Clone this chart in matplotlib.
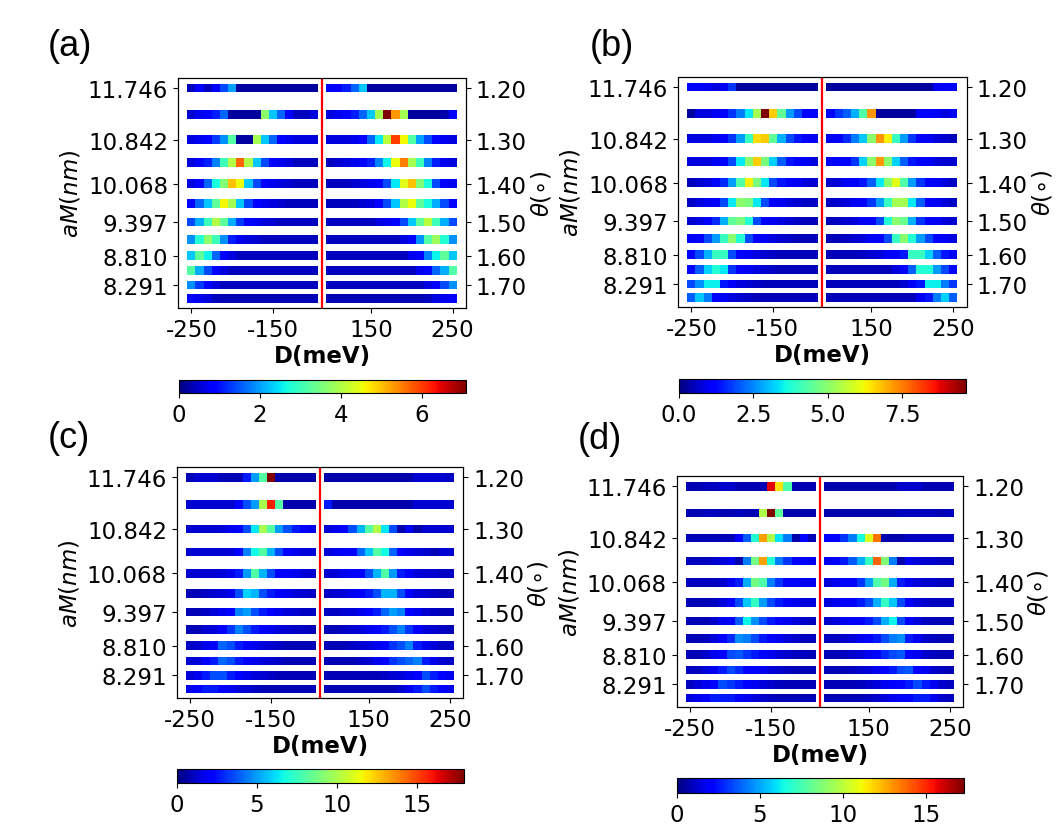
import matplotlib
matplotlib.use('Agg')
import matplotlib.pyplot as plt
import numpy as np
from matplotlib.colors import Normalize

# twist angles (rows) and the matching moire length aM in nm
theta = [1.20, 1.25, 1.30, 1.35, 1.40, 1.45, 1.50, 1.55, 1.60, 1.65, 1.70, 1.75]
aM = [11.746, 11.276, 10.842, 10.441, 10.068, 9.721, 9.397, 9.094, 8.810, 8.543, 8.291, 8.055]

# displacement field columns (meV), two blocks with a gap around zero
D_left = [-250, -240, -230, -220, -210, -200, -190, -180, -170, -160, -150, -140, -130, -120, -110, -100]
D_right = [100, 110, 120, 130, 140, 150, 160, 170, 180, 190, 200, 210, 220, 230, 240, 250]

ytick_aM = [11.746, 10.842, 10.068, 9.397, 8.810, 8.291]
ytick_aM_labels = ['11.746', '10.842', '10.068', '9.397', '8.810', '8.291']
ytick_theta_labels = ['1.20', '1.30', '1.40', '1.50', '1.60', '1.70']
xtick_D = [-250, -150, 150, 250]

# ---- panel (a)
a_left = [
    [0.4, 0.9, 0.4, 0.9, 1.4, 2.0, 0.2, 0.2, 0.2, 0.2, 0.2, 0.2, 0.2, 0.2, 0.2, 0.2],
    [0.5, 0.7, 0.9, 1.1, 1.6, 0.2, 0.2, 0.2, 0.2, 3.7, 2.3, 1.6, 0.9, 0.4, 0.4, 0.6],
    [0.6, 0.7, 0.9, 1.3, 1.9, 3.2, 0.2, 0.2, 3.9, 2.3, 1.6, 0.9, 0.7, 0.6, 0.6, 0.6],
    [0.6, 0.9, 1.1, 1.8, 3.0, 4.0, 5.7, 4.0, 2.3, 1.4, 0.9, 0.7, 0.6, 0.4, 0.4, 0.4],
    [0.6, 0.9, 1.6, 2.7, 3.6, 5.0, 4.5, 2.3, 1.4, 0.9, 0.7, 0.6, 0.5, 0.4, 0.4, 0.4],
    [0.9, 1.6, 2.3, 3.3, 4.6, 3.9, 2.3, 1.4, 0.9, 0.7, 0.6, 0.5, 0.4, 0.4, 0.4, 0.4],
    [1.4, 2.1, 3.0, 4.0, 3.3, 2.1, 1.3, 0.9, 0.7, 0.6, 0.5, 0.4, 0.4, 0.4, 0.4, 0.4],
    [1.9, 2.8, 3.7, 3.0, 1.9, 1.1, 0.7, 0.6, 0.5, 0.4, 0.4, 0.4, 0.4, 0.4, 0.4, 0.4],
    [2.3, 3.3, 2.6, 1.6, 0.9, 0.6, 0.4, 0.4, 0.4, 0.4, 0.4, 0.4, 0.4, 0.4, 0.4, 0.4],
    [3.2, 2.1, 1.4, 0.9, 0.6, 0.4, 0.4, 0.4, 0.4, 0.4, 0.4, 0.4, 0.4, 0.4, 0.4, 0.4],
    [1.9, 1.3, 0.9, 0.6, 0.4, 0.4, 0.4, 0.4, 0.4, 0.4, 0.4, 0.4, 0.4, 0.4, 0.4, 0.4],
    [0.9, 0.7, 0.6, 0.4, 0.35, 0.35, 0.35, 0.35, 0.35, 0.35, 0.35, 0.35, 0.35, 0.35, 0.35, 0.35],
]
a_right = [
    [0.9, 0.9, 1.1, 1.6, 2.3, 0.2, 0.2, 0.2, 0.2, 0.2, 0.2, 0.2, 0.2, 0.2, 0.2, 0.2],
    [0.6, 0.7, 0.9, 1.1, 1.6, 2.3, 3.9, 7.1, 5.3, 3.9, 0.2, 0.2, 0.2, 0.2, 0.3, 0.9],
    [0.6, 0.6, 0.6, 0.7, 0.9, 1.6, 2.5, 4.1, 6.0, 4.6, 3.2, 2.0, 1.4, 0.9, 0.7, 0.6],
    [0.4, 0.5, 0.6, 0.7, 0.9, 1.1, 1.8, 2.6, 4.5, 5.5, 3.9, 3.0, 1.8, 1.1, 0.7, 0.6],
    [0.4, 0.4, 0.4, 0.5, 0.6, 0.7, 0.9, 1.4, 2.5, 4.4, 5.0, 3.6, 2.7, 1.4, 0.9, 0.7],
    [0.4, 0.4, 0.4, 0.4, 0.5, 0.6, 0.9, 1.4, 2.3, 4.0, 4.5, 3.3, 2.7, 2.1, 1.4, 0.9],
    [0.4, 0.4, 0.4, 0.4, 0.4, 0.4, 0.6, 0.7, 0.9, 1.4, 2.3, 3.3, 4.1, 3.0, 2.1, 1.4],
    [0.4, 0.4, 0.4, 0.4, 0.4, 0.4, 0.4, 0.4, 0.4, 0.6, 0.9, 1.9, 3.2, 3.8, 2.8, 1.9],
    [0.4, 0.4, 0.4, 0.4, 0.4, 0.4, 0.4, 0.4, 0.4, 0.4, 0.7, 0.9, 1.8, 2.6, 3.3, 2.3],
    [0.4, 0.4, 0.4, 0.4, 0.4, 0.4, 0.4, 0.4, 0.4, 0.4, 0.4, 0.7, 0.9, 1.6, 2.1, 3.2],
    [0.4, 0.4, 0.4, 0.4, 0.4, 0.4, 0.4, 0.4, 0.4, 0.4, 0.4, 0.4, 0.6, 0.9, 1.4, 1.9],
    [0.35, 0.35, 0.35, 0.35, 0.35, 0.35, 0.35, 0.35, 0.35, 0.35, 0.35, 0.35, 0.4, 0.6, 0.7, 0.9],
]

# ---- panel (b)
b_left = [
    [1.2, 1.2, 1.0, 0.8, 1.0, 1.7, 0.3, 0.3, 0.3, 0.3, 0.3, 0.3, 0.3, 0.3, 0.3, 0.3],
    [0.3, 0.8, 0.8, 1.0, 1.2, 1.7, 2.4, 3.4, 5.3, 9.65, 6.7, 4.5, 2.7, 1.9, 1.2, 1.2],
    [0.8, 0.8, 0.8, 1.0, 1.2, 1.7, 2.7, 4.0, 6.5, 6.7, 4.5, 2.9, 1.9, 1.4, 1.2, 1.0],
    [0.8, 0.8, 0.8, 1.0, 1.2, 1.9, 3.4, 5.0, 6.7, 4.8, 3.2, 2.1, 1.4, 1.2, 1.0, 0.8],
    [0.5, 0.7, 0.8, 1.2, 1.6, 2.7, 4.3, 6.3, 4.8, 3.4, 1.9, 1.4, 1.2, 1.0, 0.8, 0.7],
    [0.6, 0.8, 1.0, 1.2, 1.9, 3.4, 5.0, 4.8, 3.4, 1.9, 1.2, 1.0, 0.8, 0.7, 0.6, 0.6],
    [0.7, 0.8, 1.2, 1.6, 2.9, 4.5, 4.8, 3.8, 1.9, 1.2, 1.0, 0.8, 0.7, 0.6, 0.5, 0.5],
    [1.0, 1.2, 1.9, 2.7, 4.0, 5.0, 3.8, 1.9, 1.2, 1.0, 0.8, 0.7, 0.6, 0.5, 0.5, 0.5],
    [1.2, 1.9, 2.9, 4.0, 4.0, 1.9, 1.2, 1.0, 0.8, 0.7, 0.6, 0.5, 0.5, 0.5, 0.5, 0.5],
    [1.2, 2.1, 3.2, 3.8, 3.4, 1.7, 1.2, 1.0, 0.8, 0.7, 0.6, 0.5, 0.5, 0.5, 0.5, 0.5],
    [1.9, 2.6, 3.5, 3.5, 1.4, 1.0, 0.8, 0.7, 0.6, 0.5, 0.5, 0.5, 0.5, 0.5, 0.5, 0.5],
    [2.1, 3.1, 2.4, 1.2, 1.0, 0.8, 0.7, 0.6, 0.5, 0.5, 0.5, 0.5, 0.5, 0.5, 0.5, 0.5],
]
b_right = [
    [0.3, 0.3, 0.3, 0.3, 0.3, 0.3, 0.3, 0.3, 0.3, 0.3, 0.3, 0.3, 0.3, 1.0, 1.2, 1.2],
    [1.2, 1.7, 2.1, 2.9, 4.3, 7.2, 0.3, 0.3, 0.3, 0.3, 0.3, 1.2, 1.2, 1.0, 0.8, 1.0],
    [1.0, 1.2, 1.6, 2.4, 3.1, 5.0, 7.2, 6.3, 4.0, 2.7, 1.7, 1.2, 1.0, 0.8, 0.7, 0.5],
    [1.0, 1.2, 1.2, 1.7, 3.2, 5.0, 7.2, 5.0, 3.2, 2.1, 1.4, 1.2, 1.0, 0.8, 0.7, 0.7],
    [0.7, 0.8, 1.0, 1.2, 1.4, 2.1, 3.4, 5.0, 6.0, 4.3, 2.7, 1.7, 1.2, 1.0, 0.8, 0.6],
    [0.6, 0.7, 0.8, 1.0, 1.2, 1.7, 2.7, 4.0, 5.3, 5.3, 3.4, 2.1, 1.2, 1.0, 0.8, 0.6],
    [0.5, 0.6, 0.7, 0.8, 1.0, 1.2, 1.9, 3.8, 5.0, 4.6, 2.9, 1.7, 1.2, 1.0, 0.8, 0.7],
    [0.5, 0.5, 0.6, 0.7, 0.8, 1.0, 1.2, 1.9, 4.0, 5.0, 3.8, 2.7, 1.9, 1.2, 1.0, 0.8],
    [0.5, 0.5, 0.5, 0.5, 0.6, 0.7, 0.8, 1.0, 1.2, 1.4, 4.0, 4.0, 3.2, 2.1, 1.4, 1.2],
    [0.5, 0.5, 0.5, 0.5, 0.5, 0.5, 0.5, 0.5, 0.8, 1.2, 2.1, 3.8, 3.8, 2.7, 1.9, 1.2],
    [0.5, 0.5, 0.5, 0.5, 0.5, 0.5, 0.5, 0.5, 0.5, 0.7, 1.0, 1.4, 3.5, 3.5, 2.4, 1.7],
    [0.5, 0.5, 0.5, 0.5, 0.5, 0.5, 0.5, 0.5, 0.5, 0.5, 0.5, 1.0, 1.4, 2.4, 3.2, 2.1],
]

# ---- panel (c)
c_left = [
    [0.9, 1.3, 1.3, 1.3, 0.9, 0.9, 0.9, 2.7, 5.0, 8.1, 17.9, 0.7, 0.7, 0.7, 0.7, 0.7],
    [1.3, 1.3, 1.3, 1.3, 1.3, 1.3, 2.3, 3.6, 5.0, 9.9, 15.7, 8.1, 0.7, 0.7, 0.7, 0.7],
    [1.3, 1.3, 1.3, 1.3, 1.4, 1.8, 2.3, 3.6, 6.3, 9.9, 8.1, 5.0, 3.6, 2.7, 2.3, 1.8],
    [1.3, 1.3, 1.3, 1.3, 1.3, 1.4, 2.2, 4.5, 6.7, 8.1, 5.4, 3.6, 2.3, 1.8, 1.4, 1.4],
    [1.3, 1.3, 1.3, 1.3, 1.4, 1.8, 2.7, 4.9, 8.1, 5.4, 3.6, 2.3, 2.2, 1.8, 1.4, 1.3],
    [0.9, 0.9, 1.1, 1.3, 1.4, 1.8, 3.6, 5.9, 5.4, 3.6, 2.7, 2.2, 1.8, 1.4, 1.3, 1.1],
    [0.9, 0.9, 1.1, 1.4, 1.8, 2.3, 4.5, 5.0, 3.6, 2.7, 2.3, 1.8, 1.4, 1.3, 1.1, 1.1],
    [0.9, 0.9, 1.3, 1.4, 2.2, 3.2, 4.5, 3.6, 2.7, 2.2, 1.8, 1.4, 1.3, 1.1, 1.1, 0.9],
    [1.1, 1.3, 1.8, 2.3, 4.0, 3.6, 2.7, 2.2, 1.8, 1.4, 1.3, 1.1, 0.9, 0.9, 0.9, 0.9],
    [1.3, 1.4, 2.2, 2.7, 4.0, 3.6, 2.7, 2.2, 1.8, 1.4, 1.3, 1.1, 0.9, 0.9, 0.9, 0.9],
    [1.4, 1.8, 2.7, 3.6, 3.6, 2.7, 2.2, 1.8, 1.4, 1.3, 1.1, 0.9, 0.9, 0.9, 0.9, 0.9],
    [1.8, 2.3, 2.7, 2.7, 2.3, 1.8, 1.4, 1.3, 1.1, 0.9, 0.9, 0.9, 0.9, 0.9, 0.9, 0.9],
]
c_right = [
    [0.7, 0.7, 0.7, 0.7, 0.7, 0.7, 0.7, 0.7, 0.7, 0.7, 0.7, 1.3, 1.3, 1.3, 1.3, 1.1],
    [2.7, 0.7, 0.7, 0.7, 0.7, 0.7, 0.7, 0.7, 0.7, 0.7, 0.7, 1.3, 1.3, 1.3, 1.3, 1.3],
    [1.4, 1.8, 2.3, 3.6, 5.4, 8.1, 10.1, 6.3, 3.6, 0.7, 1.8, 0.7, 1.3, 1.3, 1.3, 1.3],
    [1.4, 1.8, 2.2, 2.3, 4.0, 5.8, 8.1, 6.7, 4.0, 2.3, 1.8, 1.4, 1.3, 0.9, 1.3, 1.3],
    [1.3, 1.4, 1.8, 2.2, 2.3, 3.6, 5.4, 8.1, 4.9, 2.7, 2.2, 1.4, 1.3, 1.3, 1.1, 1.1],
    [1.1, 1.3, 1.4, 1.8, 2.2, 2.7, 3.6, 5.4, 5.4, 3.6, 2.3, 1.4, 1.3, 1.1, 0.9, 0.9],
    [1.1, 1.1, 1.3, 1.4, 1.8, 2.2, 2.7, 4.0, 5.0, 4.5, 2.3, 1.8, 1.3, 1.1, 0.9, 0.9],
    [0.9, 0.9, 1.1, 1.3, 1.4, 1.8, 2.3, 2.7, 3.6, 4.5, 3.2, 2.2, 1.4, 1.3, 1.1, 0.9],
    [0.9, 0.9, 0.9, 1.1, 1.3, 1.4, 1.8, 2.3, 3.1, 3.6, 4.5, 2.7, 1.8, 1.4, 1.1, 1.1],
    [0.9, 0.9, 0.9, 0.9, 1.1, 1.3, 1.8, 2.3, 3.1, 3.6, 4.0, 4.5, 2.7, 1.8, 1.3, 1.1],
    [0.9, 0.9, 0.9, 0.9, 0.9, 0.9, 0.9, 1.1, 1.3, 1.4, 1.8, 2.3, 3.6, 2.7, 2.2, 1.8],
    [0.9, 0.9, 0.9, 0.9, 0.9, 0.9, 0.9, 0.9, 0.9, 1.3, 1.8, 2.7, 3.6, 2.7, 2.3, 1.8],
]

# ---- panel (d)
d_left = [
    [0.8, 0.8, 1.0, 1.0, 1.2, 1.2, 0.8, 0.8, 0.8, 0.8, 15.8, 11.6, 7.7, 0.8, 0.8, 0.8],
    [0.8, 0.8, 1.0, 1.0, 0.8, 0.8, 1.0, 0.8, 0.8, 9.7, 17.3, 8.0, 0.7, 0.7, 0.7, 0.7],
    [0.85, 0.85, 0.85, 0.85, 0.85, 0.85, 2.2, 3.7, 6.8, 12.8, 9.7, 6.0, 4.3, 0.7, 2.2, 0.85],
    [1.0, 1.0, 1.0, 1.2, 1.4, 1.7, 0.7, 4.3, 8.5, 12.8, 6.8, 4.3, 3.1, 2.2, 2.2, 1.7],
    [1.0, 1.0, 1.0, 1.0, 1.2, 1.7, 2.6, 5.1, 8.5, 7.7, 4.3, 3.1, 2.2, 2.2, 1.7, 1.7],
    [0.85, 0.85, 0.85, 1.0, 1.4, 2.2, 3.4, 5.6, 7.1, 4.8, 3.4, 2.6, 2.2, 1.7, 1.4, 1.4],
    [0.85, 0.85, 0.85, 1.2, 1.7, 2.2, 3.7, 6.3, 4.6, 3.4, 2.6, 2.2, 1.7, 1.4, 1.2, 1.0],
    [0.85, 0.85, 1.0, 1.4, 2.0, 2.9, 4.6, 4.3, 3.4, 2.6, 2.2, 1.7, 1.4, 1.2, 1.0, 1.0],
    [0.85, 0.85, 1.2, 1.7, 2.2, 3.4, 3.7, 3.1, 2.6, 2.2, 1.7, 1.4, 1.2, 1.0, 1.0, 0.85],
    [1.0, 1.0, 1.4, 1.7, 2.6, 3.4, 2.9, 2.2, 2.0, 1.7, 1.4, 1.2, 1.0, 0.85, 0.85, 0.85],
    [1.0, 1.4, 1.7, 2.2, 3.4, 3.1, 2.6, 2.0, 1.7, 1.4, 1.2, 1.0, 0.85, 0.85, 0.85, 0.85],
    [1.4, 1.7, 2.2, 2.6, 2.6, 2.6, 2.2, 1.7, 1.4, 1.2, 1.0, 0.85, 0.85, 0.85, 0.85, 0.85],
]
d_right = [
    [0.7, 0.7, 0.7, 0.7, 0.7, 0.7, 0.7, 0.7, 0.7, 1.2, 1.2, 1.2, 0.8, 0.8, 0.8, 0.8],
    [0.7, 0.7, 0.7, 0.7, 0.7, 0.7, 0.7, 0.7, 0.7, 1.0, 1.0, 1.0, 1.0, 1.0, 0.8, 1.0],
    [2.2, 2.2, 3.1, 4.3, 6.5, 10.7, 13.6, 0.7, 0.7, 0.7, 1.0, 1.0, 1.0, 1.0, 1.0, 1.0],
    [1.7, 2.0, 2.6, 3.7, 5.1, 7.1, 13.9, 8.8, 4.3, 0.7, 1.7, 1.4, 1.2, 1.2, 1.0, 1.0],
    [1.4, 1.7, 2.0, 2.2, 3.1, 4.8, 7.7, 8.5, 5.1, 2.6, 1.7, 1.4, 1.2, 1.2, 1.0, 1.0],
    [1.4, 1.7, 2.0, 2.2, 2.6, 3.4, 5.1, 7.1, 5.6, 3.4, 2.0, 1.4, 1.2, 1.0, 1.0, 1.0],
    [1.2, 1.4, 1.7, 2.0, 2.2, 2.6, 3.4, 5.1, 6.3, 3.4, 2.0, 1.4, 1.0, 0.85, 0.85, 0.85],
    [1.0, 1.0, 1.2, 1.4, 1.7, 2.2, 2.6, 3.4, 4.3, 4.6, 2.6, 1.7, 1.2, 1.0, 0.85, 0.85],
    [0.85, 0.85, 1.0, 1.2, 1.4, 1.7, 2.2, 2.9, 3.4, 3.7, 2.2, 1.7, 1.2, 1.0, 0.85, 0.85],
    [0.85, 0.85, 0.85, 1.0, 1.2, 1.4, 1.7, 2.2, 2.6, 3.4, 3.7, 2.2, 1.7, 1.2, 1.0, 0.85],
    [0.85, 0.85, 0.85, 0.85, 1.0, 1.2, 1.4, 1.7, 2.0, 2.2, 2.6, 3.4, 2.6, 1.7, 1.2, 1.0],
    [0.85, 0.85, 0.85, 0.85, 0.85, 1.0, 1.2, 1.4, 1.7, 2.0, 2.2, 2.6, 2.6, 1.7, 1.2, 1.0],
]

cbar_ticks = {
    '(a)': [0, 2, 4, 6],
    '(b)': [0.0, 2.5, 5.0, 7.5],
    '(c)': [0, 5, 10, 15],
    '(d)': [0, 5, 10, 15],
}
cbar_ticklabels = {
    '(a)': ['0', '2', '4', '6'],
    '(b)': ['0.0', '2.5', '5.0', '7.5'],
    '(c)': ['0', '5', '10', '15'],
    '(d)': ['0', '5', '10', '15'],
}

# layout in figure fractions: main axes, colorbar axes, panel label position
layout = {
    '(a)': ([0.1679, 0.6308, 0.2717, 0.2748], [0.1689, 0.5293, 0.2708, 0.0160], (0.045, 0.944)),
    '(b)': ([0.6396, 0.6320, 0.2724, 0.2748], [0.6406, 0.5293, 0.2708, 0.0167], (0.556, 0.944)),
    '(c)': ([0.1667, 0.1645, 0.2704, 0.2760], [0.1667, 0.0633, 0.2710, 0.0167], (0.045, 0.476)),
    '(d)': ([0.6384, 0.1538, 0.2704, 0.2760], [0.6384, 0.0514, 0.2710, 0.0179], (0.545, 0.475)),
}

panels = [('(a)', a_left, a_right), ('(b)', b_left, b_right),
          ('(c)', c_left, c_right), ('(d)', d_left, d_right)]

FS = 16.5
strip_h = 0.15          # height of one row strip, nm
gap_col = len(D_left)   # empty column between the two D blocks
ncol = len(D_left) + 1 + len(D_right)
x_edges = np.arange(ncol + 1) - 0.5


def col_of(d):
    if d in D_left:
        return D_left.index(d)
    return gap_col + 1 + D_right.index(d)


fig = plt.figure(figsize=(10.6, 8.37), dpi=100)

for name, left, right in panels:
    ax_rect, cax_rect, lab_xy = layout[name]
    ax = fig.add_axes(ax_rect)
    vals = np.hstack([np.array(left), np.full((len(aM), 1), np.nan), np.array(right)])
    vals = np.ma.masked_invalid(vals)
    norm = Normalize(vmin=0, vmax=vals.max())
    for i, y in enumerate(aM):
        mesh = ax.pcolormesh(x_edges, [y - strip_h / 2, y + strip_h / 2], vals[i:i + 1, :],
                             cmap='jet', norm=norm, shading='flat')
    ax.axvline(gap_col, color='red', lw=1.6)

    ax.set_xlim(-1.64, ncol - 1 + 1.64)
    ax.set_ylim(7.89, 11.92)
    ax.set_xticks([col_of(d) for d in xtick_D])
    ax.set_xticklabels([str(d) for d in xtick_D], fontsize=FS)
    ax.set_yticks(ytick_aM)
    ax.set_yticklabels(ytick_aM_labels, fontsize=FS)
    ax.set_xlabel('D(meV)', fontsize=FS, fontweight='bold', labelpad=2)
    ax.set_ylabel(r'$aM(nm)$', fontsize=FS, labelpad=4)

    ax2 = ax.twinx()
    ax2.set_ylim(ax.get_ylim())
    ax2.set_yticks(ytick_aM)
    ax2.set_yticklabels(ytick_theta_labels, fontsize=FS)
    ax2.set_ylabel(r'$\theta(\circ)$', fontsize=FS, labelpad=2)

    cax = fig.add_axes(cax_rect)
    cb = fig.colorbar(mesh, cax=cax, orientation='horizontal')
    cb.set_ticks(cbar_ticks[name])
    cb.set_ticklabels(cbar_ticklabels[name])
    cb.ax.tick_params(labelsize=FS)

    fig.text(lab_xy[0], lab_xy[1], name, fontsize=26, family='Liberation Sans',
             ha='left', va='center')

fig.savefig('out.png', dpi=100)
